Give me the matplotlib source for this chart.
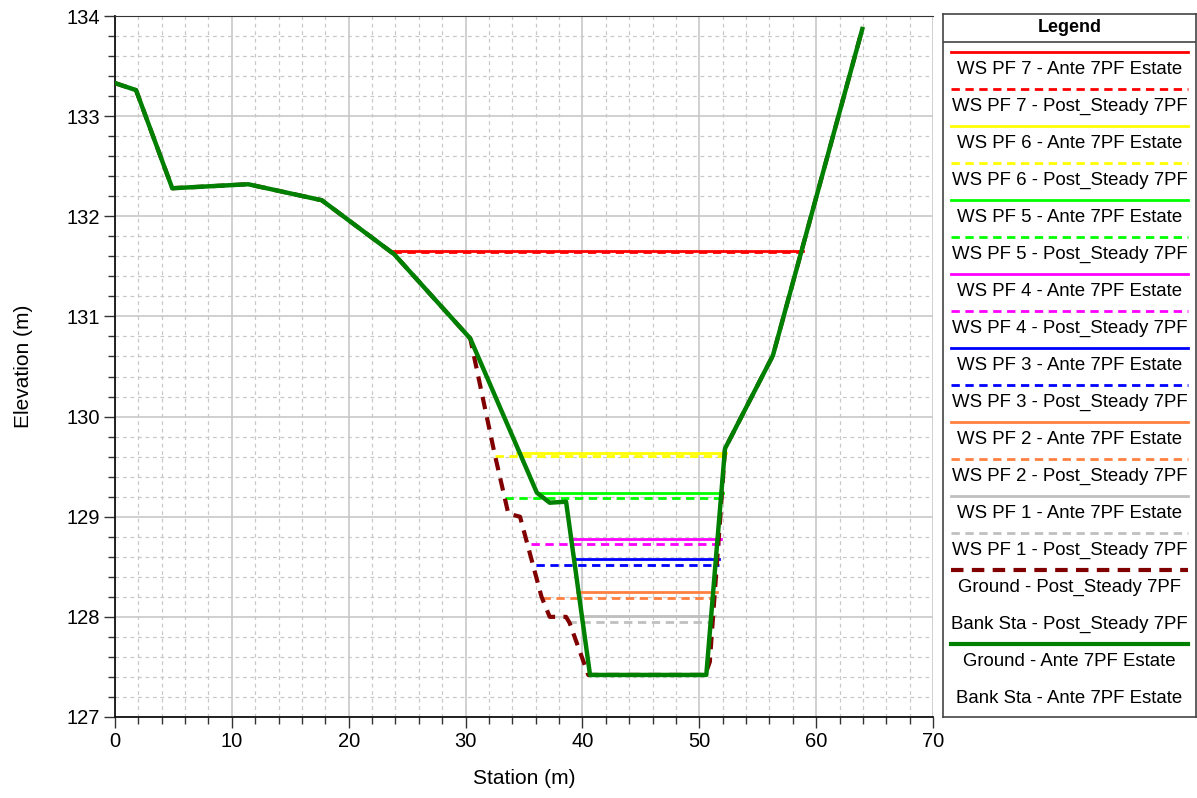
import matplotlib
matplotlib.use("Agg")
import matplotlib.pyplot as plt
from matplotlib.ticker import MultipleLocator

plt.rcParams['font.family'] = ['Liberation Sans', 'DejaVu Sans']

# Ground profiles
ground_ante_x = [0.0, 1.8, 4.9, 11.4, 17.7, 23.9, 30.4, 36.1, 37.2, 38.6, 40.65, 50.6, 52.2, 56.3, 63.95]
ground_ante_y = [133.33, 133.26, 132.28, 132.32, 132.16, 131.62, 130.78, 129.24, 129.14, 129.15, 127.42, 127.42, 129.68, 130.61, 133.87]

ground_post_x = [0.0, 1.8, 4.9, 11.4, 17.7, 23.9, 30.4, 32.5, 33.66, 34.66, 36.5, 37.2, 38.6, 38.9, 40.5, 50.5, 50.9, 51.3, 51.8, 52.2, 56.3, 63.95]
ground_post_y = [133.33, 133.26, 132.28, 132.32, 132.16, 131.62, 130.78, 129.62, 129.03, 129.0, 128.2, 128.0, 128.0, 127.94, 127.42, 127.42, 127.55, 128.2, 129.0, 129.68, 130.61, 133.87]

# Water surfaces: (elevation, x_start, x_end)
pf_names = ["PF 7", "PF 6", "PF 5", "PF 4", "PF 3", "PF 2", "PF 1"]
pf_colors = ["#ff0000", "#ffff00", "#00ff00", "#ff00ff", "#0000ff", "#ff8040", "#c0c0c0"]
ws_ante_elev = [131.65, 129.64, 129.24, 128.78, 128.58, 128.245, 128.005]
ws_ante_x0 = [23.8, 34.4, 36.1, 39.0, 39.2, 39.56, 39.85]
ws_ante_x1 = [58.9, 52.28, 52.06, 51.9, 51.72, 51.49, 51.34]
ws_post_elev = [131.64, 129.61, 129.19, 128.73, 128.52, 128.19, 127.95]
ws_post_x0 = [23.8, 32.5, 33.4, 35.6, 36.0, 36.5, 38.8]
ws_post_x1 = [58.8, 52.06, 52.0, 51.9, 51.7, 51.2, 50.9]

plan_ante = "Ante 7PF Estate"
plan_post = "Post_Steady 7PF"

fig = plt.figure(figsize=(11.97, 7.98), dpi=100)
W, H = 1197, 798
ax = fig.add_axes([115 / W, 1 - 717 / H, (933 - 115) / W, (717 - 16) / H])

# Grid
ax.set_xlim(0, 70)
ax.set_ylim(127, 134)
ax.xaxis.set_major_locator(MultipleLocator(10))
ax.xaxis.set_minor_locator(MultipleLocator(2))
ax.yaxis.set_major_locator(MultipleLocator(1))
ax.yaxis.set_minor_locator(MultipleLocator(0.2))
ax.grid(which='major', color='#c8c8c8', linewidth=1.2, linestyle='-', zorder=0)
ax.grid(which='minor', color='#c8c8c8', linewidth=0.9, linestyle=(0, (3, 3)), zorder=0)
ax.set_axisbelow(True)
ax.tick_params(which='major', direction='out', length=8, width=1.0, labelsize=14.5, color='#333333', pad=3)
ax.tick_params(which='minor', direction='out', length=5, width=1.0, color='#333333')
ax.spines['right'].set_visible(False)
ax.spines['top'].set_color('#333333')
for s in ['left', 'bottom']:
    ax.spines[s].set_color('#111111')
    ax.spines[s].set_linewidth(1.3)

ax.set_xlabel("Station (m)", fontsize=15, labelpad=13)
ax.set_ylabel("Elevation (m)", fontsize=15, labelpad=24)

# Water surfaces
for i in range(len(pf_names)):
    ax.plot([ws_ante_x0[i], ws_ante_x1[i]], [ws_ante_elev[i]] * 2, color=pf_colors[i], lw=2, zorder=3)
    ax.plot([ws_post_x0[i], ws_post_x1[i]], [ws_post_elev[i]] * 2, color=pf_colors[i], lw=2,
            linestyle=(0, (3, 2)), zorder=3)

ax.plot(ground_post_x, ground_post_y, color='#800000', lw=3, linestyle=(0, (3, 2)), zorder=4)
ax.plot(ground_ante_x, ground_ante_y, color='#008000', lw=3.2, zorder=5)

# Legend panel
lx0, lx1, ly0, ly1 = 943, 1196, 14, 717
lax = fig.add_axes([lx0 / W, 1 - ly1 / H, (lx1 - lx0) / W, (ly1 - ly0) / H])
lax.set_xlim(lx0, lx1)
lax.set_ylim(ly1, ly0)
lax.set_xticks([])
lax.set_yticks([])
for s in lax.spines.values():
    s.set_color('#444444')
    s.set_linewidth(1.2)
lax.text((lx0 + lx1) / 2, 27.5, "Legend", ha='center', va='center', fontsize=13, fontweight='bold')
lax.plot([lx0, lx1], [41.5, 41.5], color='#444444', lw=1.2)

entries = []
for i in range(len(pf_names)):
    entries.append((f"WS {pf_names[i]} - {plan_ante}", pf_colors[i], '-', 2))
    entries.append((f"WS {pf_names[i]} - {plan_post}", pf_colors[i], (0, (3, 2)), 2))
entries.append((f"Ground - {plan_post}", '#800000', (0, (3, 2)), 3))
entries.append((f"Bank Sta - {plan_post}", None, None, 0))
entries.append((f"Ground - {plan_ante}", '#008000', '-', 3))
entries.append((f"Bank Sta - {plan_ante}", None, None, 0))

for k, (label, col, ls, lw) in enumerate(entries):
    yline = 52.3 + 37 * k
    ytext = 69.3 + 37 * k
    if col is not None:
        lax.plot([951, 1188], [yline, yline], color=col, lw=lw, linestyle=ls)
    lax.text(1069.5, ytext, label, ha='center', va='center', fontsize=13.4)

fig.savefig("out.png", dpi=100)
